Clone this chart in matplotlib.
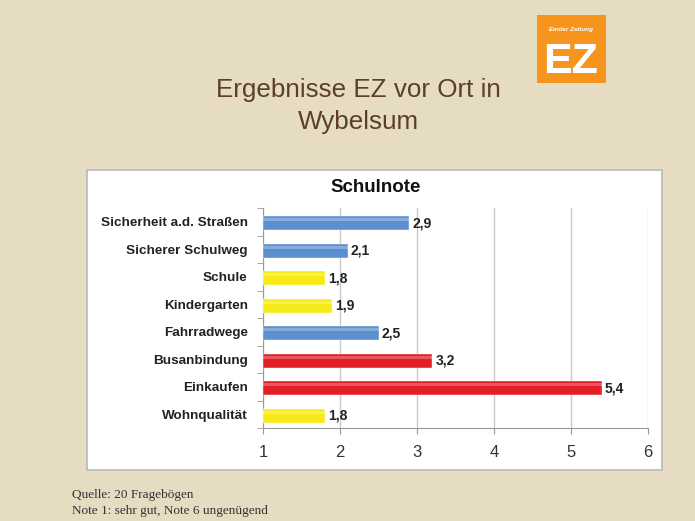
import matplotlib
matplotlib.use("Agg")
import matplotlib.pyplot as plt
from matplotlib.patches import Rectangle
import numpy as np

plt.rcParams["font.family"] = ["Liberation Sans", "DejaVu Sans"]

categories = ["Sicherheit a.d. Straßen", "Sicherer Schulweg", "Schule", "Kindergarten",
              "Fahrradwege", "Busanbindung", "Einkaufen", "Wohnqualität"]
values = [2.9, 2.1, 1.8, 1.9, 2.5, 3.2, 5.4, 1.8]
bar_colors = ["#5B8FCF", "#5B8FCF", "#F6EA16", "#F6EA16",
              "#5B8FCF", "#E21E27", "#E21E27", "#F6EA16"]
xticks = [1, 2, 3, 4, 5, 6]

bg = "#E6DCC1"
W, H = 695, 521

fig = plt.figure(figsize=(W / 100, H / 100), dpi=100, facecolor=bg)

def fx(px):
    return px / W

def fy(py):
    return 1 - py / H

# white chart frame
fig.patches.append(Rectangle((fx(87), fy(470)), fx(662) - fx(87), fy(170) - fy(470),
                             transform=fig.transFigure, facecolor="white",
                             edgecolor="#B8B8B8", lw=1.2, zorder=-2))

# logo
fig.patches.append(Rectangle((fx(537), fy(83)), fx(606) - fx(537), fy(15) - fy(83),
                             transform=fig.transFigure, facecolor="#F7941E",
                             edgecolor="none", zorder=-1))
fig.text(fx(571), fy(29), "Emder Zeitung", color="white", fontsize=4.5,
         fontweight="bold", style="italic", ha="center", va="center")
fig.text(fx(571), fy(62), "EZ", color="white", fontsize=31, fontweight="bold",
         ha="center", va="center")

fig.text(fx(358), fy(90), "Ergebnisse EZ vor Ort in", color="#5C3D2E",
         fontsize=18.7, ha="center", va="center")
fig.text(fx(358), fy(122), "Wybelsum", color="#5C3D2E",
         fontsize=18.7, ha="center", va="center")

ax = fig.add_axes([fx(263), fy(428), fx(648) - fx(263), fy(208) - fy(428)])
ax.set_facecolor("white")
y = np.arange(len(categories))
ax.barh(y + 0.05, np.array(values) - 1, left=1, height=0.5, color=bar_colors,
        edgecolor="white", lw=0.3, zorder=3)
# light highlight stripe for the shaded look
ax.barh(y - 0.07, np.array(values) - 1, left=1, height=0.1, color="white",
        alpha=0.25, lw=0, zorder=4)
for yi, v in zip(y, values):
    ax.text(v + 0.04, yi + 0.05, f"{v:.1f}".replace(".", ","), va="center", ha="left",
            fontsize=10, fontweight="bold", color="#222222", zorder=5)

ax.set_xlim(1, 6)
ax.set_ylim(len(categories) - 0.5, -0.5)
ax.set_xticks(xticks)
ax.set_xticklabels([str(t) for t in xticks], fontsize=12, color="#333333")
ax.set_yticks(y)
ax.set_yticklabels(categories, fontsize=9.7, fontweight="bold", color="#222222")
ax.set_yticks(np.arange(len(categories) + 1) - 0.5, minor=True)
ax.tick_params(axis="y", which="major", length=0, pad=11)
ax.tick_params(axis="y", which="minor", length=4, color="#999999")
ax.tick_params(axis="x", length=4, color="#999999", pad=8)
ax.grid(axis="x", color="#C8C8C8", lw=1, zorder=0)
for s in ["top", "right"]:
    ax.spines[s].set_visible(False)
for s in ["left", "bottom"]:
    ax.spines[s].set_color("#999999")

fig.text(fx(376), fy(188), "Schulnote", fontsize=13.5, fontweight="bold",
         color="#111111", ha="center", va="center")

fig.text(fx(72), fy(495), "Quelle: 20 Fragebögen", family="Liberation Serif",
         fontsize=9.5, color="#333333", va="center")
fig.text(fx(72), fy(511), "Note 1: sehr gut, Note 6 ungenügend", family="Liberation Serif",
         fontsize=9.5, color="#333333", va="center")

fig.savefig("out.png", dpi=100, facecolor=bg)
